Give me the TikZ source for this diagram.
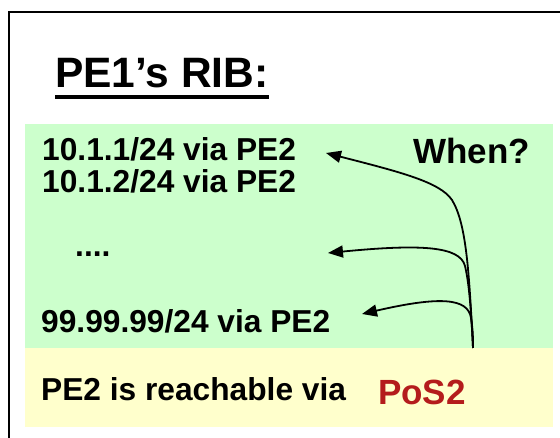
\documentclass[tikz,border=0pt]{standalone}
\usepackage{fontspec}
\setmainfont{Liberation Sans}
\usetikzlibrary{arrows.meta}
\definecolor{ribgreen}{RGB}{204,255,204}
\definecolor{ribyellow}{RGB}{255,255,204}
\definecolor{posred}{RGB}{180,28,28}
\begin{document}
\begin{tikzpicture}[x=1pt,y=1pt,
  txt/.style={anchor=base west, inner sep=0pt, font=\fontsize{31.7}{36}\selectfont\bfseries},
  big/.style={anchor=base west, inner sep=0pt, font=\fontsize{35}{40}\selectfont\bfseries},
  conn/.style={line width=1.8pt, -{Triangle[length=15pt,width=12pt]}}]
\useasboundingbox (0,0) rectangle (560,438);
\clip (0,0) rectangle (560,438);
% frame and boxes
\draw[line width=2.5pt] (9,-10) -- (9,426) -- (580,426);
\fill[ribgreen] (25,90) rectangle (553,314);
\fill[ribyellow] (25,11) rectangle (553,90);
% title
\node[anchor=base west, inner sep=0pt, font=\fontsize{42.5}{48}\selectfont\bfseries] (title) at (55,350) {PE1’s RIB:};
\draw[line width=4pt] ([yshift=-9pt]title.base west) -- ([yshift=-9pt]title.base east);
% RIB entries
\node[txt] (r1) at (42,277) {10.1.1/24 via PE2};
\node[txt] (r2) at (42,245) {10.1.2/24 via PE2};
\node[txt] (dots) at (75,181) {....};
\node[txt] (r3) at (41,105) {99.99.99/24 via PE2};
\node[big] (when) at (413,274) {When?};
\node[txt] (reach) at (41,37) {PE2 is reachable via};
\node[big, text=posred] (pos) at (378,33) {PoS2};
% arrows
\coordinate (S) at (473,90);
\coordinate (t1) at (326,285);
\coordinate (t2) at (328,185);
\coordinate (t3) at (362,124);
\draw[conn] (S) .. controls (469,170) and (466,215) .. (452,238)
              .. controls (440,256) and (400,266) .. (t1);
\draw[conn] (S) .. controls (471,130) and (469,155) .. (465,172)
              .. controls (460,192) and (420,194) .. (t2);
\draw[conn] (S) .. controls (473,100) and (473,108) .. (471,120)
              .. controls (468,140) and (440,142) .. (t3);
\end{tikzpicture}
\end{document}
